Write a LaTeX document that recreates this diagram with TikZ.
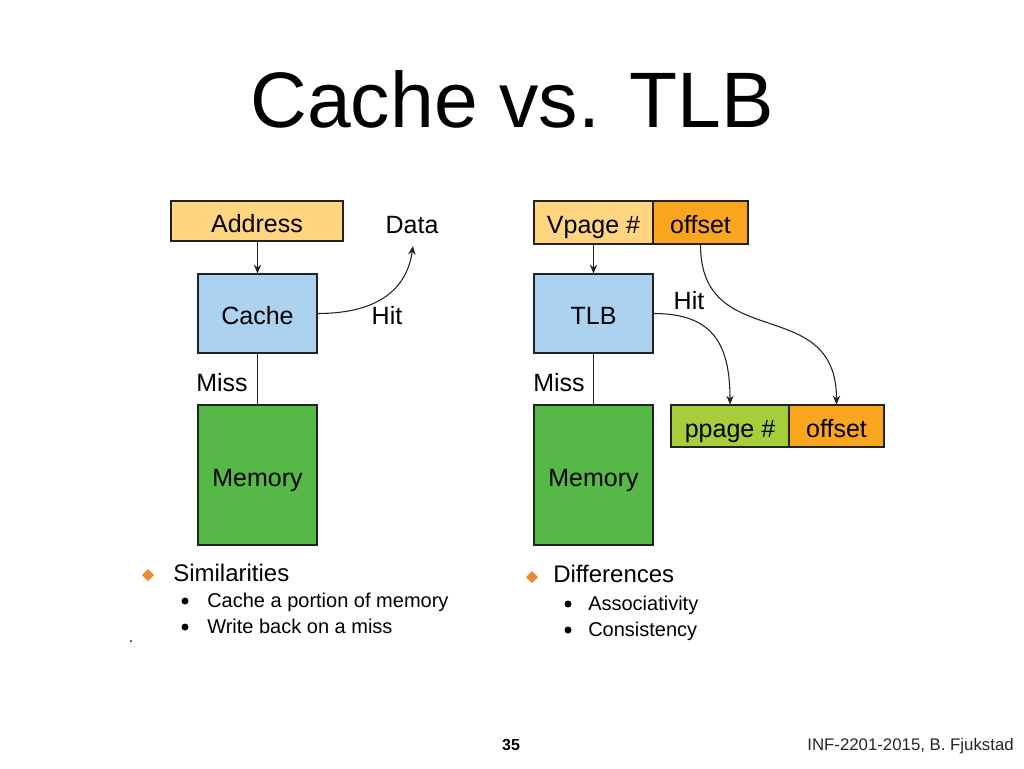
\documentclass[tikz,border=0pt]{standalone}
\usepackage{fontspec}
\setmainfont{Liberation Sans}
\usetikzlibrary{arrows.meta}
\definecolor{addrY}{HTML}{FFD57F}
\definecolor{offO}{HTML}{F9A51E}
\definecolor{cacheB}{HTML}{ABD3F0}
\definecolor{memG}{HTML}{56B947}
\definecolor{ppG}{HTML}{A6CE3A}
\definecolor{diaO}{HTML}{EE8A2E}
\definecolor{edgeK}{HTML}{222222}
\tikzset{
  box/.style={draw=edgeK, line width=0.9pt, inner sep=0pt, align=center, text height=17pt, text depth=0pt, font=\fontsize{18.75pt}{22pt}\selectfont},
  lbl/.style={inner sep=0pt, text height=13.4pt, text depth=0pt, font=\fontsize{18.75pt}{22pt}\selectfont},
  conn/.style={draw=edgeK, line width=0.8pt},
  arr/.style={conn, -{Stealth[length=6.5pt,width=5.5pt]}},
  mainb/.style={inner sep=0pt, anchor=base west, font=\fontsize{18pt}{22pt}\selectfont},
  subb/.style={inner sep=0pt, anchor=base west, font=\fontsize{15pt}{18pt}\selectfont},
  dia/.style={fill=diaO},
}
\begin{document}
\begin{tikzpicture}[x=0.75pt,y=-0.75pt]
\useasboundingbox (0,0) rectangle (1024,768);
% title
\node[inner sep=0pt, anchor=base, font=\fontsize{59pt}{70pt}\selectfont] (title) at (512,127) {Cache vs. TLB};

% ---------- left diagram ----------
\node[box, fill=addrY, minimum width={172*0.75pt}, minimum height={40*0.75pt}] (addr) at (257,221) {Address};
\node[lbl] (data) at (412,225) {Data};
\coordinate (datab) at (413,246);
\node[box, fill=cacheB, minimum width={119*0.75pt}, minimum height={79*0.75pt}] (cache) at (257.5,313.5) {Cache};
\node[lbl] (hitL) at (387,316) {Hit};
\node[lbl] (missL) at (222,383) {Miss};
\node[box, fill=memG, minimum width={119*0.75pt}, minimum height={140*0.75pt}] (memL) at (257.5,475) {Memory};

\draw[arr] (addr.south -| cache.north) -- (cache.north);
\draw[conn] (cache.south) -- (memL.north);
\draw[arr] (cache.east) .. controls +(62,0) and +(-6,42) .. (datab);

% ---------- right diagram ----------
\node[box, fill=addrY, minimum width={119*0.75pt}, minimum height={43*0.75pt}] (vpage) at (593.5,222.5) {Vpage \#};
\node[box, fill=offO, minimum width={95*0.75pt}, minimum height={43*0.75pt}] (voff) at (700.5,222.5) {offset};
\node[box, fill=cacheB, minimum width={119*0.75pt}, minimum height={79*0.75pt}] (tlb) at (593.5,313.5) {TLB};
\node[lbl] (hitR) at (689,301) {Hit};
\node[lbl] (missR) at (559,383) {Miss};
\node[box, fill=memG, minimum width={119*0.75pt}, minimum height={140*0.75pt}] (memR) at (593.5,475) {Memory};
\node[box, fill=ppG, minimum width={118*0.75pt}, minimum height={42*0.75pt}] (ppage) at (730,426) {ppage \#};
\node[box, fill=offO, minimum width={95*0.75pt}, minimum height={42*0.75pt}] (poff) at (836.5,426) {offset};

\draw[arr] (vpage.south) -- (tlb.north);
\draw[conn] (tlb.south) -- (memR.north);
\draw[arr] (tlb.east) .. controls +(58,0) and +(0,-62) .. (ppage.north);
\draw[arr] (voff.south) .. controls +(0,110) and +(0,-112) .. (poff.north);

% ---------- bullets ----------
\fill[dia] (148,569) -- (154,575) -- (148,581) -- (142,575) -- cycle;
\node[mainb] (sim) at (173,581) {Similarities};
\fill[black] (185,601) circle (3.5);
\node[subb] (sim1) at (207,607) {Cache a portion of memory};
\fill[black] (185,627) circle (3.5);
\node[subb] (sim2) at (207,633) {Write back on a miss};
\fill[black] (131,641) circle (1);

\fill[dia] (532,571) -- (538,577) -- (532,583) -- (526,577) -- cycle;
\node[mainb] (dif) at (553,582) {Differences};
\fill[black] (568,604) circle (3.5);
\node[subb] (dif1) at (588,610) {Associativity};
\fill[black] (568,630) circle (3.5);
\node[subb] (dif2) at (588,636) {Consistency};

% ---------- footer ----------
\node[inner sep=0pt, anchor=base, font=\bfseries\fontsize{12pt}{14pt}\selectfont] (pnum) at (511,750) {35};
\node[inner sep=0pt, anchor=base east, font=\fontsize{12.6pt}{14pt}\selectfont, text=black!85] (foot) at (1014,750) {INF-2201-2015, B. Fjukstad};
\end{tikzpicture}
\end{document}
